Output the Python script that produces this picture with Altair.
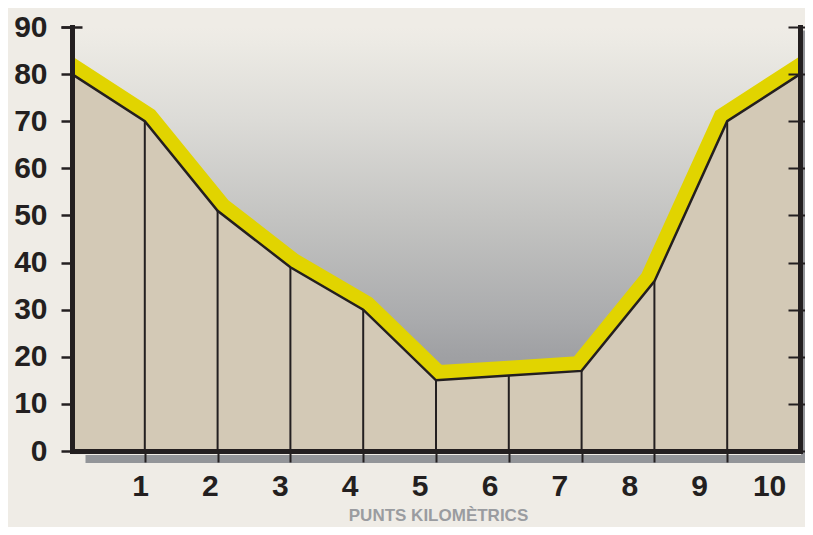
import altair as alt
import pandas as pd

# ---- data ----
km = [0, 1, 2, 3, 4, 5, 6, 7, 8, 9, 10]
altitude = [80, 70, 51, 39, 30, 15, 16, 17, 36, 70, 80]
y_ticks = [0, 10, 20, 30, 40, 50, 60, 70, 80, 90]
x_labels = [1, 2, 3, 4, 5, 6, 7, 8, 9, 10]
x_title = "PUNTS KILOMÈTRICS"

# ---- style ----
W, H = 728, 424
BLACK = "#231f20"
TAN = "#d3c9b6"
YELLOW = "#e1d400"
BG = "#efece6"
SHADOW = "#939599"
TITLE_GRAY = "#9a9ca0"
FONT = "Liberation Sans"

df = pd.DataFrame({"km": km, "alt": altitude})
ticks_df = pd.DataFrame({"v": y_ticks})
labels_df = pd.DataFrame({"k": x_labels})
bg_df = pd.DataFrame({"a": [0]})

xs = alt.Scale(domain=[0, 10], nice=False, zero=False)
ys = alt.Scale(domain=[0, 90], nice=False, zero=True)

x_none = alt.X("km:Q", scale=xs, axis=None)
y_none = alt.Y("alt:Q", scale=ys, axis=None)

gradient = alt.LinearGradient(
    gradient="linear", x1=0, x2=0, y1=0, y2=1,
    stops=[
        alt.GradientStop(color="#efece6", offset=0),
        alt.GradientStop(color="#eceae4", offset=0.04),
        alt.GradientStop(color="#dcdbd7", offset=0.22),
        alt.GradientStop(color="#c3c3c1", offset=0.456),
        alt.GradientStop(color="#aaabad", offset=0.69),
        alt.GradientStop(color="#a0a1a4", offset=0.77),
        alt.GradientStop(color="#8c8d91", offset=1),
    ],
)

backdrop = alt.Chart(bg_df).mark_rect(fill=gradient, strokeWidth=0).encode(
    x=alt.value(0), x2=alt.value(W), y=alt.value(0), y2=alt.value(H)
)

yellow = alt.Chart(df).mark_line(
    color=YELLOW, strokeWidth=30, strokeJoin="miter", strokeCap="square", clip=True
).encode(x=x_none, y=y_none)

area = alt.Chart(df).mark_area(color=TAN, opacity=1).encode(
    x=alt.X("km:Q", scale=xs, axis=alt.Axis(
        orient="bottom", values=x_labels[:-1], labels=False, title=None, grid=False,
        domainColor=BLACK, domainWidth=5, domainCap="square",
        tickColor=BLACK, tickWidth=2, tickSize=11, zindex=2)),
    y=alt.Y("alt:Q", scale=ys, axis=alt.Axis(
        orient="left", values=y_ticks, title=None, grid=False,
        domainColor=BLACK, domainWidth=5, domainCap="square",
        tickColor=BLACK, tickWidth=2.5, tickSize=11,
        labelFont=FONT, labelFontSize=30, labelFontWeight="bold", labelColor=BLACK,
        labelPadding=14, labelFlush=False, labelOverlap=False, zindex=2)),
)

rules = alt.Chart(df).mark_rule(color=BLACK, strokeWidth=2).encode(
    x=x_none, y=y_none, y2=alt.datum(0)
)

line = alt.Chart(df).mark_line(color=BLACK, strokeWidth=2.5, strokeJoin="miter").encode(
    x=x_none, y=y_none
)

right_ticks = alt.Chart(ticks_df).mark_point(opacity=0).encode(
    y=alt.Y("v:Q", scale=ys, axis=alt.Axis(
        orient="right", offset=-12, values=y_ticks, tickSize=17, tickWidth=2,
        tickColor=BLACK, domain=False, labels=False, title=None, grid=False, zindex=2))
)

right_domain = alt.Chart(ticks_df).mark_point(opacity=0).encode(
    y=alt.Y("v:Q", scale=ys, axis=alt.Axis(
        orient="right", offset=0, ticks=False, labels=False, title=None, grid=False,
        domainColor=BLACK, domainWidth=5, domainCap="square", zindex=2))
)

right_shadow = alt.Chart(ticks_df).mark_point(opacity=0).encode(
    y=alt.Y("v:Q", scale=alt.Scale(domain=[0, 90], range=[H + 11, 3], nice=False),
            axis=alt.Axis(orient="right", offset=3, ticks=False, labels=False, title=None,
                          grid=False, domainColor=SHADOW, domainWidth=5, zindex=0))
)

left_cap = alt.Chart(ticks_df).mark_point(opacity=0).encode(
    y=alt.Y("v:Q", scale=ys, axis=alt.Axis(
        orient="left", offset=-10, values=[90], tickSize=21, tickWidth=2.5,
        tickColor=BLACK, domain=False, labels=False, title=None, grid=False, zindex=2))
)

bottom_labels = alt.Chart(labels_df).mark_point(opacity=0).encode(
    x=alt.X("k:Q", scale=alt.Scale(domain=[0.2132, 10.514], range=[13, 733], nice=False, zero=False),
            axis=alt.Axis(
                orient="bottom", offset=7.5, values=x_labels, ticks=False, tickSize=0,
                grid=False, domainColor=SHADOW, domainWidth=8,
                labelFont=FONT, labelFontSize=30, labelFontWeight="bold", labelColor=BLACK,
                labelPadding=13, labelFlush=False, labelOverlap=False,
                title=x_title, titleFont=FONT, titleFontSize=17, titleFontWeight="bold",
                titleColor=TITLE_GRAY, titlePadding=6, titleX=366, zindex=0))
)

chart = alt.layer(
    backdrop, yellow, area, rules, line, right_shadow, right_ticks, right_domain, left_cap, bottom_labels
).resolve_scale(
    x="independent", y="independent"
).resolve_axis(
    x="independent", y="independent"
).properties(
    width=W, height=H,
    autosize=alt.AutoSizeParams(type="none"),
    padding={"left": 64, "top": 19, "right": 5, "bottom": 76},
    background=BG,
).configure_view(stroke=None)

chart.save("out.html", embed_options={"renderer": "svg", "actions": False})
